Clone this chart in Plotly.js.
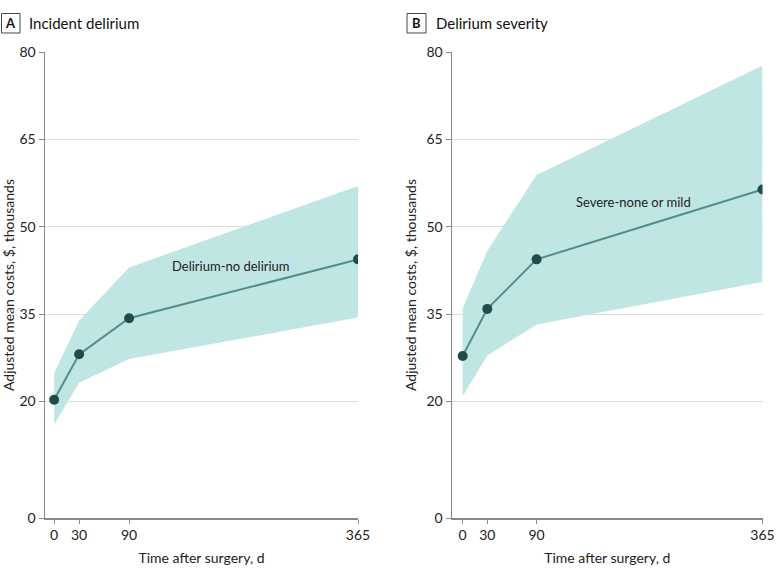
<!DOCTYPE html>
<html>
<head>
<meta charset="utf-8">
<script src="https://cdn.plot.ly/plotly-3.0.1.min.js"></script>
<style>
  html, body { margin: 0; padding: 0; background: #fff; }
  #plot { width: 783px; height: 582px; }
</style>
</head>
<body>
<div id="plot"></div>
<script>
// Time points (days after surgery)
var days = [0, 30, 90, 365];

// Panel A: incident delirium (delirium - no delirium)
var incidentMean = [20.3, 28.1, 34.3, 44.4];
var incidentUpper = [24.9, 33.9, 43.0, 57.0];
var incidentLower = [16.0, 23.2, 27.3, 34.4];

// Panel B: delirium severity (severe - none or mild)
var severityMean = [27.8, 35.9, 44.4, 56.4];
var severityUpper = [36.0, 45.9, 58.9, 77.7];
var severityLower = [20.9, 27.9, 33.2, 40.5];

var yTicks = [0, 20, 35, 50, 65, 80];
var xTicks = [0, 30, 90, 365];

var font = "Lato, 'Open Sans', sans-serif";
var bandColor = "#c0e6e4";
var lineColor = "#4f8e8a";
var dotColor = "#1f4c49";

function panel(mean, upper, lower, xa, ya) {
  var low = {
    x: days, y: lower, xaxis: xa, yaxis: ya,
    mode: "lines", line: { width: 0, color: bandColor },
    hoverinfo: "skip", showlegend: false
  };
  var up = {
    x: days, y: upper, xaxis: xa, yaxis: ya,
    mode: "lines", line: { width: 0, color: bandColor },
    fill: "tonexty", fillcolor: bandColor,
    hoverinfo: "skip", showlegend: false
  };
  var est = {
    x: days, y: mean, xaxis: xa, yaxis: ya,
    mode: "lines+markers",
    line: { color: lineColor, width: 2 },
    marker: { color: dotColor, size: 10 },
    showlegend: false
  };
  return [low, up, est];
}

var data = panel(incidentMean, incidentUpper, incidentLower, "x", "y")
  .concat(panel(severityMean, severityUpper, severityLower, "x2", "y2"));

function xAxis(domain, start, anchor) {
  return {
    domain: domain, anchor: anchor,
    range: [start, 365],
    tickvals: xTicks, ticks: "outside", ticklen: 4, tickcolor: "#888",
    showline: true, linecolor: "#888", linewidth: 1.5,
    showgrid: false, zeroline: false,
    tickfont: { family: font, size: 14, color: "#222" },
    title: { text: "Time after surgery, d", font: { family: font, size: 14, color: "#222" }, standoff: 11 }
  };
}

function yAxis(anchor) {
  return {
    domain: [1 - 518 / 582, 1 - 52 / 582], anchor: anchor,
    range: [0, 80],
    tickvals: yTicks, ticks: "outside", ticklen: 5, tickcolor: "#888",
    showline: true, linecolor: "#888", linewidth: 1.5,
    showgrid: true, gridcolor: "#dcdcdc", gridwidth: 1,
    zeroline: false,
    tickfont: { family: font, size: 14, color: "#222" },
    title: { text: "Adjusted mean costs, $, thousands", font: { family: font, size: 14, color: "#222" }, standoff: 6 }
  };
}

function label(x, y, text, size, anchor) {
  return {
    xref: "paper", yref: "paper", x: x / 783, y: 1 - y / 582,
    xanchor: anchor, yanchor: "middle", text: text, showarrow: false,
    font: { family: font, size: size, color: "#111" }
  };
}

var layout = {
  width: 783, height: 582,
  margin: { l: 0, r: 0, t: 0, b: 0 },
  paper_bgcolor: "#fff", plot_bgcolor: "#fff",
  xaxis: xAxis([45 / 783, 358 / 783], -11, "y"),
  yaxis: yAxis("x"),
  xaxis2: xAxis([452 / 783, 762.5 / 783], -13, "y2"),
  yaxis2: yAxis("x2"),
  shapes: [
    { type: "rect", xref: "paper", yref: "paper", x0: 1.5 / 783, x1: 20 / 783, y0: 1 - 33 / 582, y1: 1 - 13.5 / 582, line: { color: "#444", width: 1 } },
    { type: "rect", xref: "paper", yref: "paper", x0: 407 / 783, x1: 426 / 783, y0: 1 - 33 / 582, y1: 1 - 13.5 / 582, line: { color: "#444", width: 1 } }
  ],
  annotations: [
    label(10.8, 23.5, "<b>A</b>", 13, "center"),
    label(27, 23, "Incident delirium", 15, "left"),
    label(416.5, 23.5, "<b>B</b>", 13, "center"),
    label(434, 23, "Delirium severity", 15, "left"),
    { xref: "x", yref: "y", x: 213, y: 43.2, text: "Delirium-no delirium", showarrow: false, font: { family: font, size: 13, color: "#222" } },
    { xref: "x2", yref: "y2", x: 208, y: 54.2, text: "Severe-none or mild", showarrow: false, font: { family: font, size: 13, color: "#222" } }
  ]
};

Plotly.newPlot("plot", data, layout, { displayModeBar: false, staticPlot: true });
</script>
</body>
</html>
